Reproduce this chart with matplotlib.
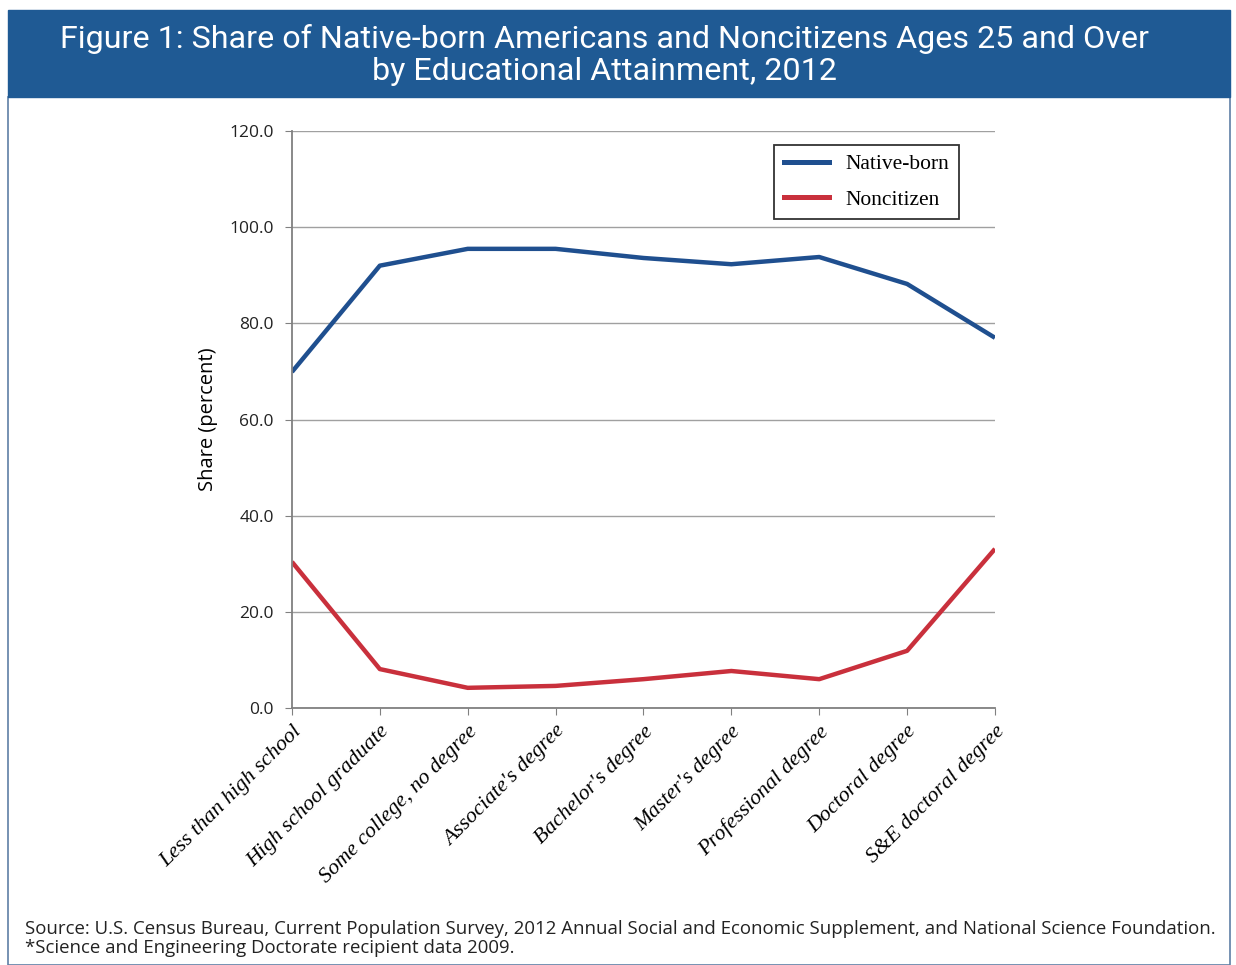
import numpy as np
import matplotlib.pyplot as plt
from matplotlib.patches import Rectangle
from matplotlib.lines import Line2D

categories = ["Less than high school", "High school graduate", "Some college, no degree",
              "Associate's degree", "Bachelor's degree", "Master's degree",
              "Professional degree", "Doctoral degree", "S&E doctoral degree"]
native_born = [69.9, 92.0, 95.5, 95.5, 93.6, 92.3, 93.8, 88.2, 77.0]
noncitizen = [30.4, 8.1, 4.2, 4.6, 6.0, 7.7, 6.0, 11.9, 33.1]
yticks = [0, 20, 40, 60, 80, 100, 120]

title = "Figure 1: Share of Native-born Americans and Noncitizens Ages 25 and Over\nby Educational Attainment, 2012"
source = ("Source: U.S. Census Bureau, Current Population Survey, 2012 Annual Social and Economic Supplement, and National Science Foundation.\n"
          "*Science and Engineering Doctorate recipient data 2009.")

blue = "#1f4f8f"
red = "#c9303c"
band = "#1f5a94"

fig = plt.figure(figsize=(12.36, 9.65), dpi=100)

# title band and outer frame
fig.patches.append(Rectangle((0.0065, 0.0), 0.9885, 0.9, transform=fig.transFigure,
                             facecolor="none", edgecolor="#5f7fa5", linewidth=1.2, zorder=-1))
fig.patches.append(Rectangle((0.0065, 0.8995), 0.9885, 0.0901, transform=fig.transFigure,
                             facecolor=band, edgecolor=band, zorder=-1))
fig.text(0.489, 0.943, title, color="white", ha="center", va="center",
         fontsize=23.2, family="Roboto", linespacing=1.12)

ax = fig.add_axes([0.2362, 0.2663, 0.5688, 0.5979])
x = np.arange(len(categories))
ax.plot(x, native_born, color=blue, lw=3.2, solid_capstyle="butt")
ax.plot(x, noncitizen, color=red, lw=3.2, solid_capstyle="butt")

ax.set_xlim(0, len(categories) - 1)
ax.set_ylim(0, 120)
ax.set_yticks(yticks)
ax.set_yticklabels(["%.1f" % v for v in yticks], family="Open Sans", fontsize=12.5, color="#222222")
ax.set_xticks(x)
ax.set_xticklabels(categories, rotation=45, ha="right", rotation_mode="anchor",
                   family="Liberation Serif", style="italic", fontsize=15.8)
ax.tick_params(axis="x", length=5, color="#808080", pad=5)
ax.tick_params(axis="y", length=5, color="#808080", pad=8)
ax.grid(axis="y", color="#a0a0a0", lw=1)
ax.set_axisbelow(True)
for s in ["top", "right"]:
    ax.spines[s].set_visible(False)
for s in ["left", "bottom"]:
    ax.spines[s].set_color("#808080")
    ax.spines[s].set_linewidth(1.3)
ax.set_ylabel("Share (percent)", family="Open Sans", fontsize=14.5, weight="medium", labelpad=8)

handles = [Line2D([], [], color=blue, lw=3.6), Line2D([], [], color=red, lw=3.6)]
leg = ax.legend(handles, ["Native-born", "Noncitizen"], loc="upper right",
                bbox_to_anchor=(0.964, 0.995), fancybox=False, edgecolor="#333333",
                prop={"family": "Liberation Serif", "size": 15.5}, handlelength=2.1,
                handletextpad=0.75, borderpad=0.45, labelspacing=0.7, framealpha=1)
leg.get_frame().set_linewidth(1.3)

fig.text(0.02, 0.008, source, family="Open Sans", fontsize=13.4, ha="left", va="bottom",
         color="#222222", linespacing=1.1)

fig.savefig("out.png", dpi=100)
